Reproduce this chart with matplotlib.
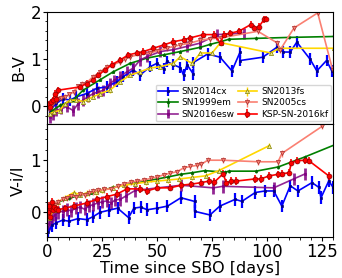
import matplotlib.pyplot as plt
from matplotlib.ticker import MultipleLocator

# ---- B-V (top panel) ----
t_bv_14cx = [1.1, 4.2, 7.2, 10.3, 13.3, 17.9, 22.5, 27, 31.6, 34.6, 39.2, 42.2, 46.8, 49.9,
             52.9, 54.4, 57.4, 60.5, 62, 63.6, 66.5, 66.5, 73, 78.6, 84, 87.7, 87.7, 98,
             104.4, 107.4, 110.5, 113.5, 119.5, 122.6, 127, 129.4]
bv_14cx = [-0.09, 0.06, 0.16, 0.13, 0.2, 0.27, 0.38, 0.41, 0.52, 0.63, 0.77, 0.66, 0.84, 0.91,
           0.8, 0.95, 0.88, 0.82, 0.66, 0.88, 0.68, 0.93, 1.11, 1.04, 0.75, 1.15, 0.97, 1.04,
           1.25, 1.15, 1.15, 1.36, 1.0, 0.75, 0.97, 0.75]

t_bv_99em = [2, 6, 11.8, 16.3, 24, 30, 37.7, 45.3, 52.9, 60.5, 69.6, 74, 78.8, 82.6, 95, 110, 130.5]
bv_99em = [-0.1, 0.02, 0.13, 0.34, 0.56, 0.73, 0.91, 1.02, 1.09, 1.16, 1.25, 1.31, 1.37, 1.42,
           1.44, 1.46, 1.48]

t_bv_16esw = [1.1, 2.5, 4.2, 6.5, 8.8, 11.8, 14, 16.3, 18.5, 20.9, 23, 25.5, 28.5, 30.5, 33.1,
              36.2, 39.2, 42.2, 45.3, 51.4, 57.4, 63.6, 69.6, 77.3, 89.4]
bv_16esw = [-0.23, -0.18, -0.09, -0.05, -0.01, -0.09, 0.05, 0.13, 0.2, 0.27, 0.3, 0.34, 0.48, 0.55,
            0.63, 0.73, 0.81, 0.98, 1.05, 1.16, 1.2, 1.27, 1.34, 1.52, 1.55]

t_bv_13fs = [1.1, 3, 5.7, 8, 10.3, 13.3, 16.3, 18.5, 20.9, 24, 28.5, 33.1, 37.7, 42.2, 46.8,
             51.4, 57.4, 60.5, 65.9, 69.6, 75, 78.8, 101.6, 105.4, 130.5]
bv_13fs = [-0.16, -0.12, -0.09, 0.05, 0.13, 0.13, 0.1, 0.15, 0.2, 0.27, 0.34, 0.52, 0.66, 0.73,
           0.81, 0.84, 0.91, 1.05, 0.91, 1.13, 1.13, 1.35, 1.13, 1.23, 1.23]

t_bv_05cs = [1, 2, 3, 4, 5, 6.5, 8, 10, 12, 14, 16, 18, 20.9, 24, 27, 30, 33, 35.5, 37.7, 42,
             46.8, 50.5, 54.4, 57.5, 60.5, 65, 69.6, 74, 78.8, 95.8, 104.7, 106, 112.2, 123, 129.8]
bv_05cs = [-0.05, 0.02, 0.1, 0.12, 0.15, 0.17, 0.2, 0.25, 0.3, 0.42, 0.47, 0.5, 0.63, 0.72, 0.84,
           0.88, 0.94, 1.0, 1.05, 1.1, 1.13, 1.18, 1.23, 1.27, 1.3, 1.34, 1.4, 1.43, 1.45, 1.59,
           1.34, 1.2, 1.66, 1.98, 0.77]

t_bv_16kf = [0.5, 1.1, 1.8, 2.6, 3.4, 4.2, 4.9, 14.8, 17.9, 20.9, 23.2, 26.3, 29.3, 33.1, 36.9,
             40.7, 43.7, 48.3, 52.9, 57.4, 62, 65, 71, 75.7, 78.8, 80.3, 83.3, 87.1, 92.5, 94,
             96.3, 98.6, 99.3]
bv_16kf = [0.05, -0.01, 0.08, 0.13, 0.27, 0.16, 0.34, 0.41, 0.48, 0.56, 0.66, 0.77, 0.88, 0.98,
           1.09, 1.13, 1.16, 1.23, 1.3, 1.37, 1.41, 1.45, 1.52, 1.52, 1.34, 1.52, 1.55, 1.59,
           1.73, 1.66, 1.69, 1.84, 1.85]

# ---- V-i/I (bottom panel) ----
t_vi_14cx = [0.5, 2, 4, 7, 10, 14, 18, 21, 24, 28, 32, 37, 39.4, 42.5, 45.5, 50, 54.7, 60.8,
             67, 67, 74, 78.5, 85.5, 88.5, 94.6, 99, 103, 106.7, 110.5, 114, 120.4, 123.5,
             124.5, 128, 130]
vi_14cx = [-0.38, -0.25, -0.2, -0.15, -0.17, -0.12, -0.14, -0.08, 0.0, 0.04, 0.08, -0.1, 0.08,
           0.1, 0.05, 0.08, 0.12, 0.28, 0.21, 0.02, -0.05, 0.12, 0.25, 0.21, 0.38, 0.41, 0.41,
           0.12, 0.51, 0.41, 0.57, 0.48, 0.28, 0.6, 0.48]

t_vi_99em = [1, 3, 5, 10, 15, 20, 25, 30, 35, 40, 45, 50, 55, 60.8, 66, 71.7, 80.7, 82.8, 95,
             105, 117, 131]
vi_99em = [-0.02, 0.1, 0.2, 0.27, 0.33, 0.38, 0.42, 0.48, 0.53, 0.56, 0.6, 0.64, 0.68, 0.73,
           0.76, 0.8, 0.77, 0.79, 0.79, 0.87, 1.06, 1.3]

t_vi_16esw = [0.8, 2, 3.5, 5, 7, 9, 11, 13, 15, 17, 19, 21, 23, 25, 27, 29, 31, 33.3, 36, 40,
              60.8, 75.5, 80, 103, 112, 117.4]
vi_16esw = [-0.22, -0.12, -0.05, 0.0, 0.02, 0.05, 0.03, 0.08, 0.1, 0.06, 0.12, 0.15, 0.18, 0.2,
            0.22, 0.18, 0.24, 0.25, 0.32, 0.42, 0.52, 0.47, 0.5, 0.47, 0.64, 0.74]

t_vi_13fs = [1, 3, 5, 8, 12, 15, 18, 22, 25, 30, 35, 40, 45, 50, 55, 60, 66, 72, 78, 101]
vi_13fs = [-0.1, 0.05, 0.2, 0.28, 0.38, 0.34, 0.37, 0.39, 0.42, 0.47, 0.52, 0.55, 0.58, 0.6,
           0.62, 0.64, 0.67, 0.7, 0.8, 1.28]

t_vi_05cs = [1, 2, 3.5, 5, 7, 9, 11, 13, 15, 17, 19, 21, 23, 26, 29, 32, 35, 38, 41, 44, 47,
             50, 53, 56, 59, 62, 65, 68, 70, 73, 80, 96, 105, 106.7, 125]
vi_05cs = [0.0, 0.08, 0.15, 0.2, 0.25, 0.28, 0.32, 0.3, 0.35, 0.33, 0.38, 0.4, 0.42, 0.44, 0.45,
           0.5, 0.55, 0.58, 0.6, 0.62, 0.65, 0.68, 0.72, 0.75, 0.78, 0.85, 0.88, 0.9, 0.92, 1.0,
           1.0, 0.97, 0.97, 1.13, 1.65]

t_vi_16kf = [0.5, 1, 1.5, 2, 2.5, 3, 4, 5, 8, 12, 18, 22.6, 27, 31.7, 36.3, 42.4, 45.5, 50, 56,
             60.8, 65.4, 70, 73.6, 76, 80, 81.4, 83.7, 86, 94.3, 97, 101, 105, 106.7, 110, 111,
             113.5, 117.2, 119, 128]
vi_16kf = [0.0, 0.12, -0.08, 0.2, 0.05, 0.1, 0.06, 0.05, 0.08, 0.12, 0.18, 0.25, 0.3, 0.35,
           0.45, 0.45, 0.41, 0.47, 0.47, 0.52, 0.54, 0.57, 0.6, 0.58, 0.74, 0.57, 0.6, 0.6, 0.64,
           0.64, 0.7, 0.73, 0.74, 0.76, 0.95, 0.99, 1.0, 0.99, 0.7]

names = ["SN2014cx", "SN1999em", "SN2016esw", "SN2013fs", "SN2005cs", "KSP-SN-2016kf"]
errs = [0.12, 0.03, 0.12, 0.05, 0.06, 0.07]
styles = [
    dict(color="blue", marker="s", ms=1.5, mfc="navy", mec="navy", lw=1.2, elinewidth=1.6, alpha=1),
    dict(color="green", marker="*", ms=2.5, mfc="darkgreen", mec="darkgreen", lw=1.2, elinewidth=1.0, alpha=1),
    dict(color="purple", marker="s", ms=1.8, mfc="purple", mec="purple", lw=1.2, elinewidth=2.0, alpha=0.85),
    dict(color="gold", marker="^", ms=3, mfc="khaki", mec="olive", lw=1.2, elinewidth=1.0, alpha=1),
    dict(color="salmon", marker="v", ms=3, mfc="salmon", mec="brown", lw=1.2, elinewidth=1.0, alpha=1),
    dict(color="red", marker="o", ms=3.5, mfc="red", mec="darkred", lw=1.2, elinewidth=1.2, alpha=1),
]

top = [(t_bv_14cx, bv_14cx), (t_bv_99em, bv_99em), (t_bv_16esw, bv_16esw),
       (t_bv_13fs, bv_13fs), (t_bv_05cs, bv_05cs), (t_bv_16kf, bv_16kf)]
bottom = [(t_vi_14cx, vi_14cx), (t_vi_99em, vi_99em), (t_vi_16esw, vi_16esw),
          (t_vi_13fs, vi_13fs), (t_vi_05cs, vi_05cs), (t_vi_16kf, vi_16kf)]

fig = plt.figure(figsize=(3.42, 2.78), dpi=100)
ax1 = fig.add_axes([0.138, 0.555, 0.836, 0.402])
ax2 = fig.add_axes([0.138, 0.148, 0.836, 0.407], sharex=ax1)

for ax, data in ((ax1, top), (ax2, bottom)):
    for (t, v), name, e, st in zip(data, names, errs, styles):
        ax.errorbar(t, v, yerr=e, label=name, mew=0.5, capsize=0, **st)
    ax.tick_params(which="both", labelsize=12, pad=1.5)
    ax.tick_params(which="major", length=3)
    ax.tick_params(which="minor", length=1.8)
    ax.xaxis.set_minor_locator(MultipleLocator(5))

ax1.set_ylim(-0.37, 2.0)
ax2.set_ylim(-0.47, 1.7)
ax1.set_xlim(0, 130)
ax1.yaxis.set_major_locator(MultipleLocator(1))
ax1.yaxis.set_minor_locator(MultipleLocator(0.2))
ax2.yaxis.set_major_locator(MultipleLocator(1))
ax2.yaxis.set_minor_locator(MultipleLocator(0.2))
ax2.xaxis.set_major_locator(MultipleLocator(25))
plt.setp(ax1.get_xticklabels(), visible=False)

ax1.set_ylabel("B-V", fontsize=11.5, labelpad=3)
ax2.set_ylabel("V-i/I", fontsize=11.5, labelpad=3)
ax2.set_xlabel("Time since SBO [days]", fontsize=11.5, labelpad=0)

ax1.legend(ncol=2, fontsize=6.5, loc="lower right", handlelength=2.2, columnspacing=0.3,
           handletextpad=0.4, borderpad=0.3, labelspacing=0.25, borderaxespad=0.25)

fig.savefig("out.png", dpi=100)
